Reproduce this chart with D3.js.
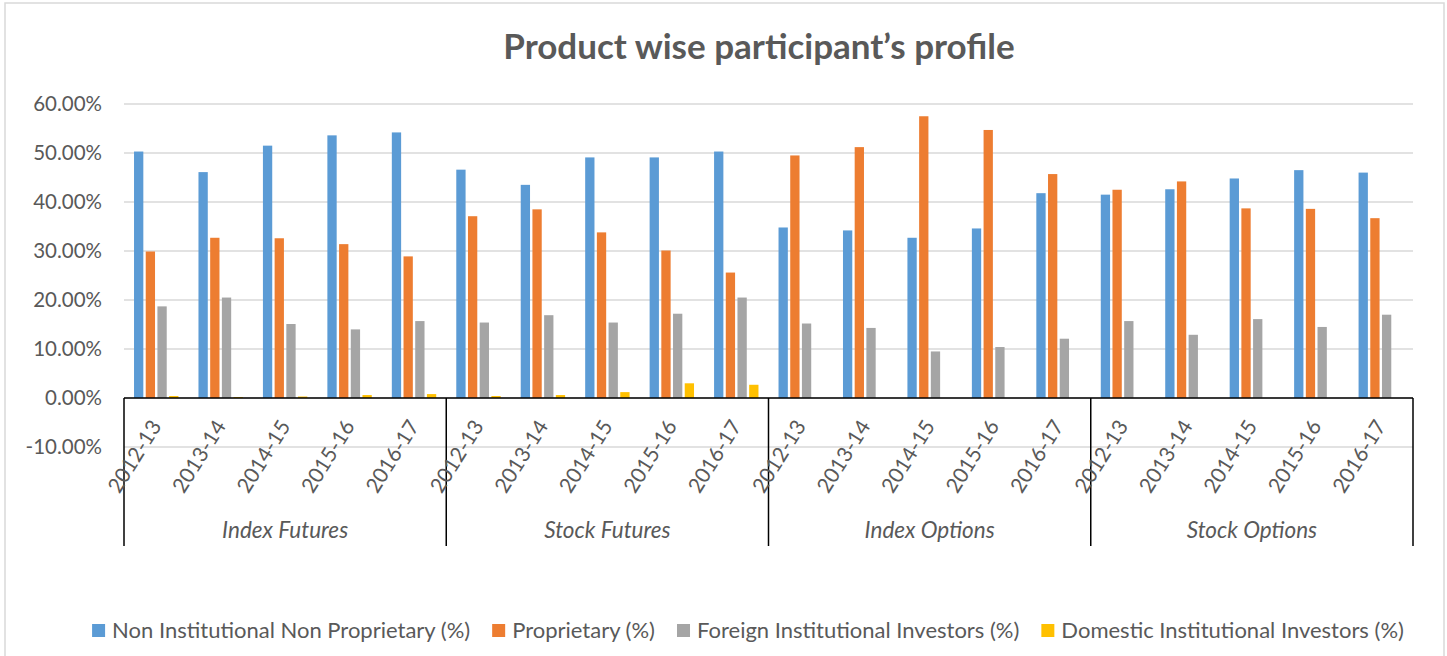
<!DOCTYPE html>
<html>
<head>
<meta charset="utf-8">
<script src="https://cdn.jsdelivr.net/npm/d3@7"></script>
<style>
  body { margin: 0; background: #fff; }
  svg text { font-family: Lato, "Open Sans", sans-serif; fill: #595959; }
</style>
</head>
<body>
<div id="chart"></div>
<script>
// data (percent)
var groups = ["Index Futures", "Stock Futures", "Index Options", "Stock Options"];
var years = ["2012-13", "2013-14", "2014-15", "2015-16", "2016-17"];
var seriesNames = ["Non Institutional Non Proprietary (%)", "Proprietary (%)",
  "Foreign Institutional Investors (%)", "Domestic Institutional Investors (%)"];
var seriesColors = ["#5B9BD5", "#ED7D31", "#A5A5A5", "#FFC000"];
var nonInst = [50.3, 46.1, 51.5, 53.6, 54.2, 46.6, 43.5, 49.1, 49.1, 50.3,
  34.8, 34.2, 32.7, 34.6, 41.8, 41.5, 42.6, 44.8, 46.5, 46.0];
var proprietary = [29.9, 32.7, 32.6, 31.4, 28.9, 37.1, 38.5, 33.8, 30.1, 25.6,
  49.5, 51.2, 57.5, 54.7, 45.7, 42.5, 44.2, 38.7, 38.6, 36.7];
var fii = [18.7, 20.5, 15.1, 14.0, 15.7, 15.4, 16.9, 15.4, 17.2, 20.5,
  15.2, 14.3, 9.5, 10.4, 12.1, 15.7, 12.9, 16.1, 14.5, 17.0];
var dii = [0.4, 0.2, 0.3, 0.6, 0.8, 0.4, 0.6, 1.2, 3.0, 2.7,
  0, 0, 0, 0, 0, 0, 0, 0, 0, 0];
var yTicks = [-10, 0, 10, 20, 30, 40, 50, 60];

(function() {
var width = 1447, height = 656;
var plotLeft = 124, plotRight = 1413, plotTop = 104, plotBottom = 447;
var boxBottom = 546;

var allSeries = [nonInst, proprietary, fii, dii];

// one row per category
var cats = [];
groups.forEach(function(g, gi) {
  years.forEach(function(yr, yi) {
    var i = gi * years.length + yi;
    cats.push({ key: g + "|" + yr, group: g, year: yr,
      values: allSeries.map(function(s, si) { return { s: si, v: s[i] }; }) });
  });
});

var svg = d3.select("#chart").append("svg")
  .attr("width", width)
  .attr("height", height);

// chart border
svg.append("rect")
  .attr("x", 5).attr("y", 3)
  .attr("width", 1439).attr("height", 665)
  .attr("fill", "none")
  .attr("stroke", "#d9d9d9")
  .attr("stroke-width", 1.5);

var x = d3.scaleBand()
  .domain(cats.map(function(d) { return d.key; }))
  .range([plotLeft, plotRight]);

var xInner = d3.scaleBand()
  .domain(d3.range(4))
  .range([0, x.bandwidth()])
  .paddingInner(0.205)
  .paddingOuter(0.857);

var y = d3.scaleLinear()
  .domain([-10, 60])
  .range([plotBottom, plotTop]);

// title
svg.append("text")
  .attr("x", 759)
  .attr("y", 59)
  .attr("text-anchor", "middle")
  .style("font-size", "35px")
  .style("font-weight", "bold")
  .text("Product wise participant\u2019s profile");

// gridlines
svg.append("g")
  .selectAll("line")
  .data(yTicks)
  .enter()
  .append("line")
  .attr("x1", plotLeft).attr("x2", plotRight)
  .attr("y1", function(d) { return y(d); })
  .attr("y2", function(d) { return y(d); })
  .attr("stroke", "#d9d9d9")
  .attr("stroke-width", 1.5);

// y axis labels
var yAxis = svg.append("g")
  .attr("transform", "translate(" + (plotLeft - 22) + ",0)")
  .call(d3.axisLeft(y).tickValues(yTicks).tickSize(0).tickPadding(0)
    .tickFormat(function(d) { return d.toFixed(2) + "%"; }));
yAxis.select(".domain").remove();
yAxis.selectAll("text")
  .style("font-size", "20.5px")
  .style("font-family", "Lato, 'Open Sans', sans-serif")
  .attr("fill", "#595959");

// bars
var catG = svg.append("g")
  .selectAll("g")
  .data(cats)
  .enter()
  .append("g")
  .attr("transform", function(d) { return "translate(" + x(d.key) + ",0)"; });

catG.selectAll("rect")
  .data(function(d) { return d.values; })
  .enter()
  .append("rect")
  .attr("x", function(d) { return xInner(d.s); })
  .attr("width", xInner.bandwidth())
  .attr("y", function(d) { return y(Math.max(0, d.v)); })
  .attr("height", function(d) { return Math.abs(y(d.v) - y(0)); })
  .attr("fill", function(d) { return seriesColors[d.s]; });

// category axis: zero line and group box
svg.append("line")
  .attr("x1", plotLeft).attr("x2", plotRight)
  .attr("y1", y(0)).attr("y2", y(0))
  .attr("stroke", "#000")
  .attr("stroke-width", 1.5);

var sepX = groups.map(function(g) { return x(g + "|" + years[0]); });
sepX.push(plotRight);
svg.append("g")
  .selectAll("line")
  .data(sepX)
  .enter()
  .append("line")
  .attr("x1", function(d) { return d; })
  .attr("x2", function(d) { return d; })
  .attr("y1", y(0)).attr("y2", boxBottom)
  .attr("stroke", "#000")
  .attr("stroke-width", 1.5);

// year labels, rotated
svg.append("g")
  .selectAll("text")
  .data(cats)
  .enter()
  .append("text")
  .attr("transform", function(d) {
    var cx = x(d.key) + x.bandwidth() / 2;
    return "translate(" + (cx + 6) + "," + (y(0) + 28) + ") rotate(-58)";
  })
  .attr("text-anchor", "end")
  .style("font-size", "21px")
  .text(function(d) { return d.year; });

// group labels
svg.append("g")
  .selectAll("text")
  .data(groups)
  .enter()
  .append("text")
  .attr("x", function(g) { return x(g + "|" + years[0]) + x.bandwidth() * years.length / 2; })
  .attr("y", 538)
  .attr("text-anchor", "middle")
  .style("font-size", "22.5px")
  .style("font-style", "italic")
  .text(function(g) { return g; });

// legend
var legend = svg.append("g");
var items = legend.selectAll("g")
  .data(seriesNames)
  .enter()
  .append("g");
items.append("rect")
  .attr("width", 13).attr("height", 13)
  .attr("y", -14)
  .attr("fill", function(d, i) { return seriesColors[i]; });
items.append("text")
  .attr("x", 20)
  .attr("y", 0)
  .style("font-size", "22px")
  .text(function(d) { return d; });

var lx = 0;
items.each(function() {
  var g = d3.select(this);
  g.attr("transform", "translate(" + lx + ",0)");
  lx += 20 + g.select("text").node().getComputedTextLength() + 22;
});
lx -= 22;
legend.attr("transform", "translate(" + (748 - lx / 2) + ",638)");
})();
</script>
</body>
</html>
